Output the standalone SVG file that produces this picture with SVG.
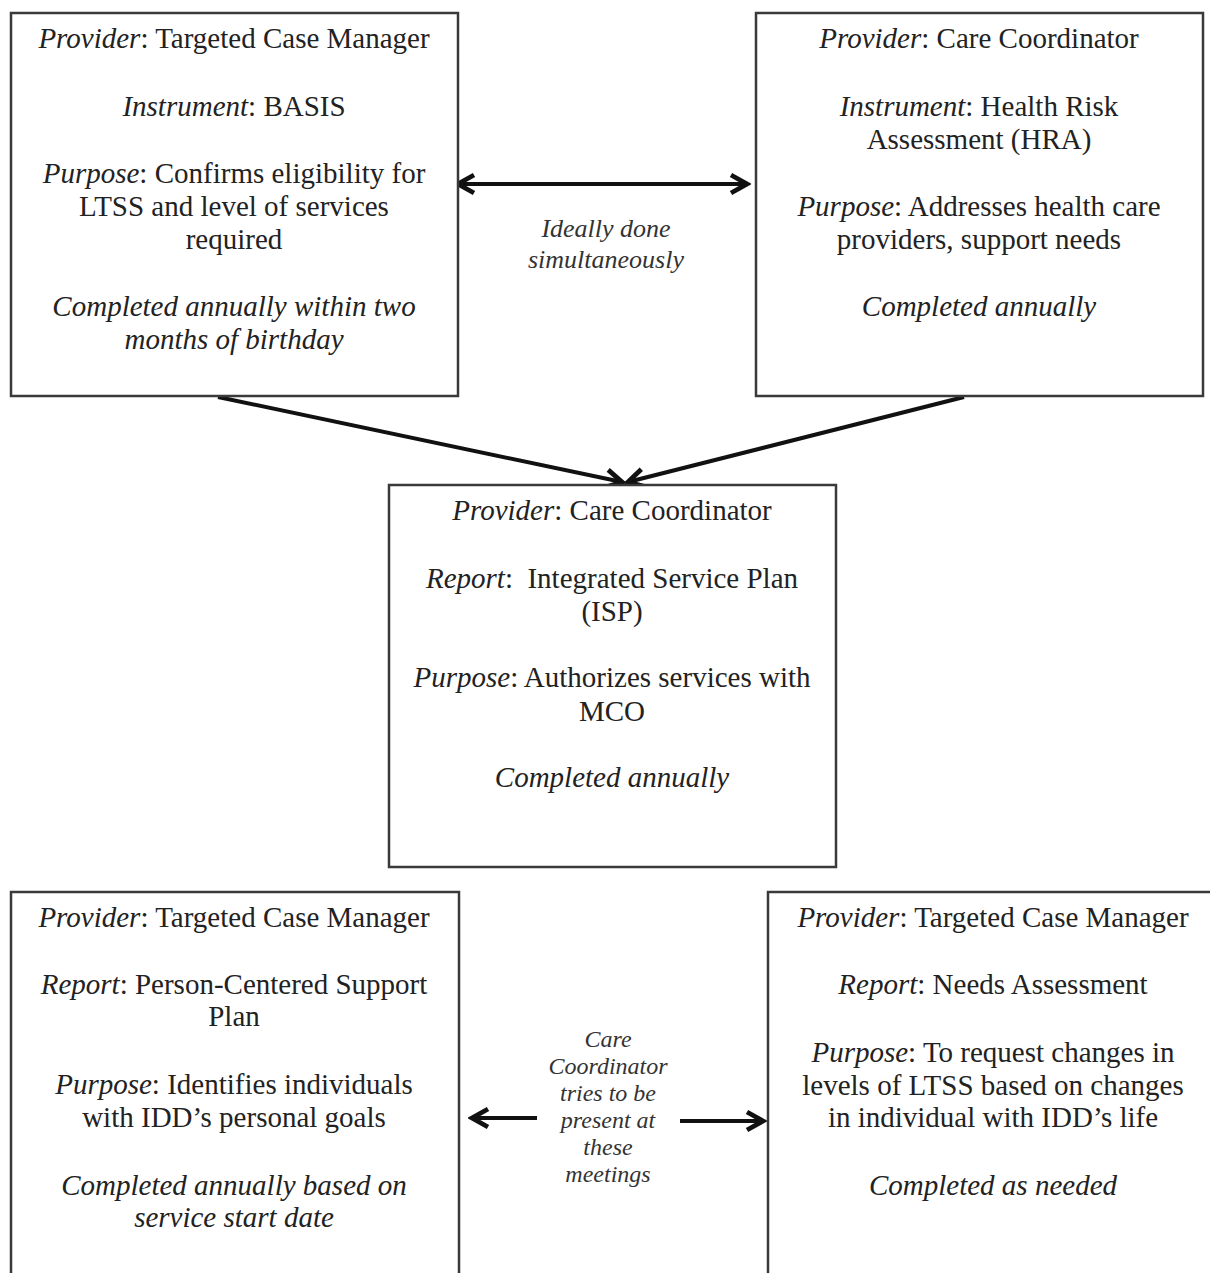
<svg xmlns="http://www.w3.org/2000/svg" width="1210" height="1273" viewBox="0 0 1210 1273">
<style>
.box{fill:#fff;stroke:#3a3a3a;stroke-width:2.5}
text{font-family:"Liberation Serif","Times New Roman",serif;font-size:29px;fill:#222;text-anchor:middle}
.i{font-style:italic}
.lbl{font-size:26px;font-style:italic;fill:#333}
.lbl2{font-size:24px;font-style:italic;fill:#333}
.con{stroke:#111;stroke-width:4;fill:none}
</style>
<defs>
<marker id="ah" viewBox="0 0 12 12" refX="10" refY="6" markerWidth="6" markerHeight="6" orient="auto-start-reverse" markerUnits="strokeWidth">
<path d="M2,1.5 L10,6 L2,10.5" fill="none" stroke="#111" stroke-width="2.4" stroke-linejoin="miter"/>
</marker>
</defs>
<rect width="1210" height="1273" fill="#fff"/>
<g id="connectors">
<line class="con" x1="458" y1="184" x2="747" y2="184" marker-start="url(#ah)" marker-end="url(#ah)"/>
<line class="con" x1="218" y1="397" x2="622" y2="482" marker-end="url(#ah)"/>
<line class="con" x1="964" y1="397" x2="628" y2="482" marker-end="url(#ah)"/>
<line class="con" x1="537" y1="1118" x2="472" y2="1118" marker-end="url(#ah)"/>
<line class="con" x1="680" y1="1121" x2="763" y2="1121" marker-end="url(#ah)"/>
<text class="lbl" x="606" y="237">Ideally done</text>
<text class="lbl" x="606" y="268">simultaneously</text>
<text class="lbl2" x="608" y="1047">Care</text>
<text class="lbl2" x="608" y="1074">Coordinator</text>
<text class="lbl2" x="608" y="1101">tries to be</text>
<text class="lbl2" x="608" y="1128">present at</text>
<text class="lbl2" x="608" y="1155">these</text>
<text class="lbl2" x="608" y="1182">meetings</text>
</g>
<g id="node-basis">
<rect class="box" x="11" y="13" width="447" height="383"/>
<text x="234" y="48"><tspan class="i">Provider</tspan>: Targeted Case Manager</text>
<text x="234" y="116"><tspan class="i">Instrument</tspan>: BASIS</text>
<text x="234" y="183"><tspan class="i">Purpose</tspan>: Confirms eligibility for</text>
<text x="234" y="216">LTSS and level of services</text>
<text x="234" y="249">required</text>
<text class="i" x="234" y="316">Completed annually within two</text>
<text class="i" x="234" y="349">months of birthday</text>
</g>
<g id="node-hra">
<rect class="box" x="756" y="13" width="447" height="383"/>
<text x="979" y="48"><tspan class="i">Provider</tspan>: Care Coordinator</text>
<text x="979" y="116"><tspan class="i">Instrument</tspan>: Health Risk</text>
<text x="979" y="149">Assessment (HRA)</text>
<text x="979" y="216"><tspan class="i">Purpose</tspan>: Addresses health care</text>
<text x="979" y="249">providers, support needs</text>
<text class="i" x="979" y="316">Completed annually</text>
</g>
<g id="node-isp">
<rect class="box" x="389" y="485" width="447" height="382"/>
<text x="612" y="520"><tspan class="i">Provider</tspan>: Care Coordinator</text>
<text x="612" y="588" xml:space="preserve"><tspan class="i">Report</tspan>:  Integrated Service Plan</text>
<text x="612" y="621">(ISP)</text>
<text x="612" y="687"><tspan class="i">Purpose</tspan>: Authorizes services with</text>
<text x="612" y="721">MCO</text>
<text class="i" x="612" y="787">Completed annually</text>
</g>
<g id="node-pcsp">
<path class="box" d="M11,1275 V892 H459 V1275"/>
<text x="234" y="927"><tspan class="i">Provider</tspan>: Targeted Case Manager</text>
<text x="234" y="994"><tspan class="i">Report</tspan>: Person-Centered Support</text>
<text x="234" y="1026">Plan</text>
<text x="234" y="1094"><tspan class="i">Purpose</tspan>: Identifies individuals</text>
<text x="234" y="1127">with IDD’s personal goals</text>
<text class="i" x="234" y="1195">Completed annually based on</text>
<text class="i" x="234" y="1227">service start date</text>
</g>
<g id="node-needs">
<path class="box" d="M768,1275 V892 H1215"/>
<text x="993" y="927"><tspan class="i">Provider</tspan>: Targeted Case Manager</text>
<text x="993" y="994"><tspan class="i">Report</tspan>: Needs Assessment</text>
<text x="993" y="1062"><tspan class="i">Purpose</tspan>: To request changes in</text>
<text x="993" y="1095">levels of LTSS based on changes</text>
<text x="993" y="1127">in individual with IDD’s life</text>
<text class="i" x="993" y="1195">Completed as needed</text>
</g>
</svg>
